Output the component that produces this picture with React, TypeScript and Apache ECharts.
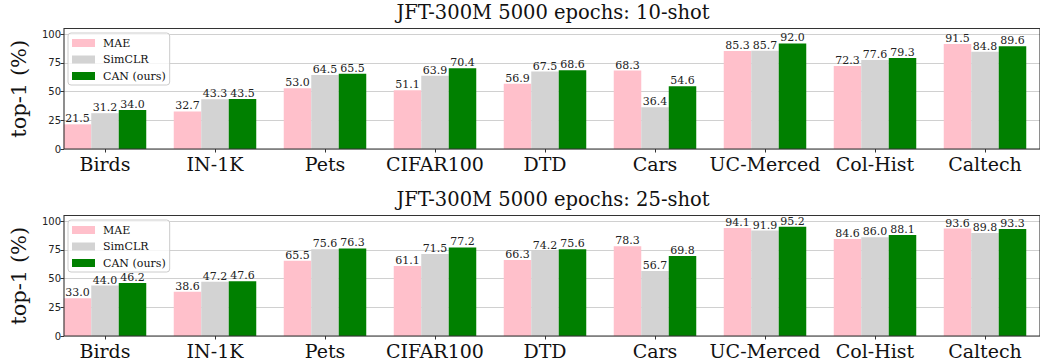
import React, { useEffect, useRef } from "react";
import * as echarts from "echarts";

const categories = ["Birds", "IN-1K", "Pets", "CIFAR100", "DTD", "Cars", "UC-Merced", "Col-Hist", "Caltech"];
const seriesNames = ["MAE", "SimCLR", "CAN (ours)"];
const titles = ["JFT-300M 5000 epochs: 10-shot", "JFT-300M 5000 epochs: 25-shot"];
const yTicks = [0, 25, 50, 75, 100];

const mae10 = [21.5, 32.7, 53.0, 51.1, 56.9, 68.3, 85.3, 72.3, 91.5];
const simclr10 = [31.2, 43.3, 64.5, 63.9, 67.5, 36.4, 85.7, 77.6, 84.8];
const can10 = [34.0, 43.5, 65.5, 70.4, 68.6, 54.6, 92.0, 79.3, 89.6];

const mae25 = [33.0, 38.6, 65.5, 61.1, 66.3, 78.3, 94.1, 84.6, 93.6];
const simclr25 = [44.0, 47.2, 75.6, 71.5, 74.2, 56.7, 91.9, 86.0, 89.8];
const can25 = [46.2, 47.6, 76.3, 77.2, 75.6, 69.8, 95.2, 88.1, 93.3];

const panels = [
  [mae10, simclr10, can10],
  [mae25, simclr25, can25],
];

const colors = ["#FFC0CB", "#D3D3D3", "#008000"];
const SERIF = "DejaVu Serif";
const SANS = "DejaVu Sans";

export default function App() {
  const ref = useRef<HTMLDivElement>(null);
  useEffect(() => {
    if (!ref.current) return;
    const chart = echarts.init(ref.current, null, { renderer: "svg" });
    const tops = [28.5, 215.5];
    const H = 120.5;
    const grid: any[] = [];
    const xAxis: any[] = [];
    const yAxis: any[] = [];
    const series: any[] = [];
    const title: any[] = [];
    const legend: any[] = [];
    tops.forEach((top, p) => {
      const gA = p * 2;
      const gB = p * 2 + 1;
      grid.push({ left: 62, top, width: 982, height: H, show: true, borderColor: "#333", borderWidth: 1.1, backgroundColor: "transparent", z: 10 });
      grid.push({ left: 50, top, width: 994.5, height: H });
      xAxis.push({ gridIndex: gA, type: "value", min: 0, max: 1, show: false });
      xAxis.push({
        gridIndex: gB,
        type: "category",
        data: categories,
        axisLine: { show: false },
        axisTick: { show: true, alignWithLabel: true, length: 3.5, lineStyle: { color: "#333", width: 1 } },
        axisLabel: { fontFamily: SERIF, fontSize: 19, color: "#111", margin: 5, interval: 0 },
      });
      yAxis.push({
        gridIndex: gA,
        type: "value",
        min: 0,
        max: 105,
        interval: 25,
        name: "top-1 (%)",
        nameLocation: "middle",
        nameGap: 35,
        nameTextStyle: { fontFamily: SERIF, fontSize: 21, color: "#111" },
        axisLine: { show: false },
        axisTick: { show: true, length: 3.5, lineStyle: { color: "#333" }, customValues: yTicks },
        axisLabel: { fontFamily: SANS, fontSize: 10, color: "#222", margin: 3, customValues: yTicks },
        splitLine: { show: true, lineStyle: { color: "#d0d0d0", width: 1.1 } },
        z: 0,
      });
      yAxis.push({ gridIndex: gB, type: "value", min: 0, max: 105, show: false });
      panels[p].forEach((vals, i) => {
        series.push({
          type: "bar",
          name: seriesNames[i],
          xAxisIndex: gB,
          yAxisIndex: gB,
          data: vals,
          barWidth: "25%",
          barGap: "0%",
          itemStyle: { color: colors[i] },
          z: 2,
          label: {
            show: true,
            position: "top",
            distance: 0,
            fontFamily: SERIF,
            fontSize: 11,
            color: "#222",
            formatter: (d: any) => Number(d.value).toFixed(1),
          },
        });
      });
      title.push({
        text: titles[p],
        left: 553,
        textAlign: "center",
        top: top - 26,
        padding: 0,
        textStyle: { fontFamily: SERIF, fontSize: 19.5, fontWeight: "normal", color: "#111" },
      });
      legend.push({
        data: seriesNames,
        orient: "vertical",
        left: 68,
        top: top + 4.5,
        icon: "rect",
        itemWidth: 23,
        itemHeight: 8,
        itemGap: 4.5,
        padding: [4, 4, 3, 4],
        borderColor: "#cccccc",
        borderWidth: 1,
        borderRadius: 3,
        backgroundColor: "rgba(255,255,255,0.8)",
        textStyle: { fontFamily: SERIF, fontSize: 11, color: "#111", lineHeight: 12, padding: [0, 0, 0, 3] },
        z: 20,
      });
    });
    chart.setOption({
      animation: false,
      backgroundColor: "#fff",
      title,
      legend,
      grid,
      xAxis,
      yAxis,
      series,
    });
    return () => chart.dispose();
  }, []);
  return <div ref={ref} style={{ position: "fixed", left: 0, top: 0, width: 1040, height: 364 }} />;
}
